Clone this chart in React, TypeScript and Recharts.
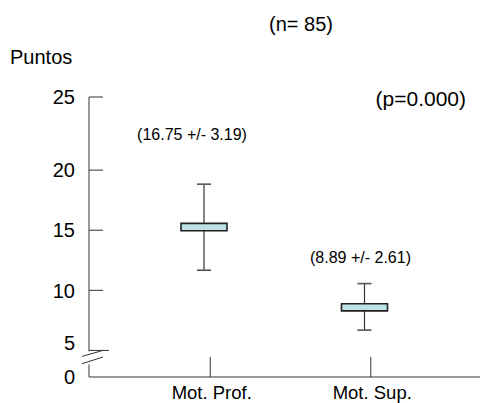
import { ComposedChart, Bar, XAxis, YAxis, LabelList } from 'recharts';

const categories = ['Mot. Prof.', 'Mot. Sup.'];
const boxLow = [14.96, 8.29];
const boxHigh = [15.57, 8.88];
const whiskerLow = [11.67, 6.69];
const whiskerHigh = [18.83, 10.56];
const meanLabels = ['(16.75 +/- 3.19)', '(8.89 +/- 2.61)'];

// broken axis: the bottom end is labelled 0 and the top end 25
const axisMin = 2.79;
const axisMax = 26.08;
const tickValues = [axisMin, 5, 10, 15, 20, axisMax];
const tickLabels = ['0', '5', '10', '15', '20', '25'];

const data = categories.map((name, i) => ({
  name,
  box: [boxLow[i], boxHigh[i]],
  whisker: [whiskerLow[i], whiskerHigh[i]],
  label: meanLabels[i],
}));

const FONT = '"Liberation Sans", Arial, sans-serif';
const AXIS_X = 89;
const INK = '#333';
const labelShift = [
  { dx: -12, dy: -44 },
  { dx: -4, dy: -21 },
];

const YTick = (props: any) => {
  const { y, payload } = props;
  const label = tickLabels[tickValues.indexOf(payload.value)];
  // the 5 sits above its tick to clear the break
  const lift = label === '5' ? -8 : 0;
  return (
    <g>
      <text x={AXIS_X - 14} y={y + lift} dy="0.36em" textAnchor="end" fontSize={20} fontFamily={FONT} fill="#000">
        {label}
      </text>
      {label === '0' ? (
        <g>
          <rect x={AXIS_X - 4} y={y - 25.6} width={8} height={13} fill="#fff" />
          <line x1={82} y1={y - 20.6} x2={103} y2={y - 26.6} stroke={INK} />
          <line x1={82} y1={y - 13.3} x2={103} y2={y - 20} stroke={INK} />
        </g>
      ) : (
        <line x1={AXIS_X} y1={y} x2={AXIS_X + (label === '5' ? 20 : 14)} y2={y} stroke={INK} />
      )}
    </g>
  );
};

const XTick = (props: any) => {
  const { x, y, payload } = props;
  return (
    <g>
      <line x1={x + 6} y1={y} x2={x + 6} y2={y - 20} stroke={INK} />
      <text x={x + 7.5} y={y + 22} textAnchor="middle" fontSize={18.5} fontFamily={FONT} fill="#000">
        {payload.value}
      </text>
    </g>
  );
};

const WhiskerShape = (props: any) => {
  const { x, y, width, height } = props;
  const top = Math.min(y, y + height);
  const bottom = Math.max(y, y + height);
  const cx = x + width / 2;
  return (
    <g stroke={INK} strokeWidth={1.2}>
      <line x1={cx} y1={top} x2={cx} y2={bottom} />
      <line x1={x} y1={top} x2={x + width} y2={top} stroke="#555" strokeWidth={1.6} />
      <line x1={x} y1={bottom} x2={x + width} y2={bottom} stroke="#555" strokeWidth={1.6} />
    </g>
  );
};

const MeanLabel = (props: any) => {
  const { x, y, width, height, value } = props;
  const i = meanLabels.indexOf(value);
  const shift = labelShift[i] || { dx: 0, dy: 0 };
  const top = Math.min(y, y + height);
  return (
    <text x={x + width / 2 + shift.dx} y={top + shift.dy} textAnchor="middle" fontSize={16} fontFamily={FONT} fill="#000">
      {value}
    </text>
  );
};

export default function App() {
  return (
    <div style={{ position: 'absolute', left: 0, top: 0, width: 480, height: 403, background: '#fff' }}>
      <ComposedChart width={480} height={403} data={data} margin={{ top: 97, right: 0, bottom: 0, left: 0 }}>
        <XAxis
          dataKey="name"
          height={26}
          padding={{ left: 35, right: 35 }}
          axisLine={{ stroke: INK }}
          tickLine={false}
          tickSize={0}
          tickMargin={0}
          tick={<XTick />}
          interval={0}
        />
        <XAxis xAxisId="w" dataKey="name" height={26} padding={{ left: 35, right: 35 }} hide />
        <YAxis
          type="number"
          width={89}
          domain={[axisMin, axisMax]}
          ticks={tickValues}
          interval={0}
          allowDataOverflow
          axisLine={{ stroke: INK }}
          tickLine={false}
          tickSize={0}
          tickMargin={14}
          tick={<YTick />}
        />
        <Bar xAxisId="w" dataKey="whisker" barSize={14} shape={<WhiskerShape />} isAnimationActive={false}>
          <LabelList dataKey="label" content={<MeanLabel />} />
        </Bar>
        <Bar dataKey="box" barSize={46} fill="#bde2e5" stroke="#222" strokeWidth={1.6} isAnimationActive={false} />
      </ComposedChart>
      <svg width={480} height={403} style={{ position: 'absolute', left: 0, top: 0, pointerEvents: 'none' }}>
        <text x={301} y={31} textAnchor="middle" fontSize={20} fontFamily={FONT}>(n= 85)</text>
        <text x={10} y={64} fontSize={20} fontFamily={FONT}>Puntos</text>
        <text x={466} y={106} textAnchor="end" fontSize={21} fontFamily={FONT}>(p=0.000)</text>
      </svg>
    </div>
  );
}
